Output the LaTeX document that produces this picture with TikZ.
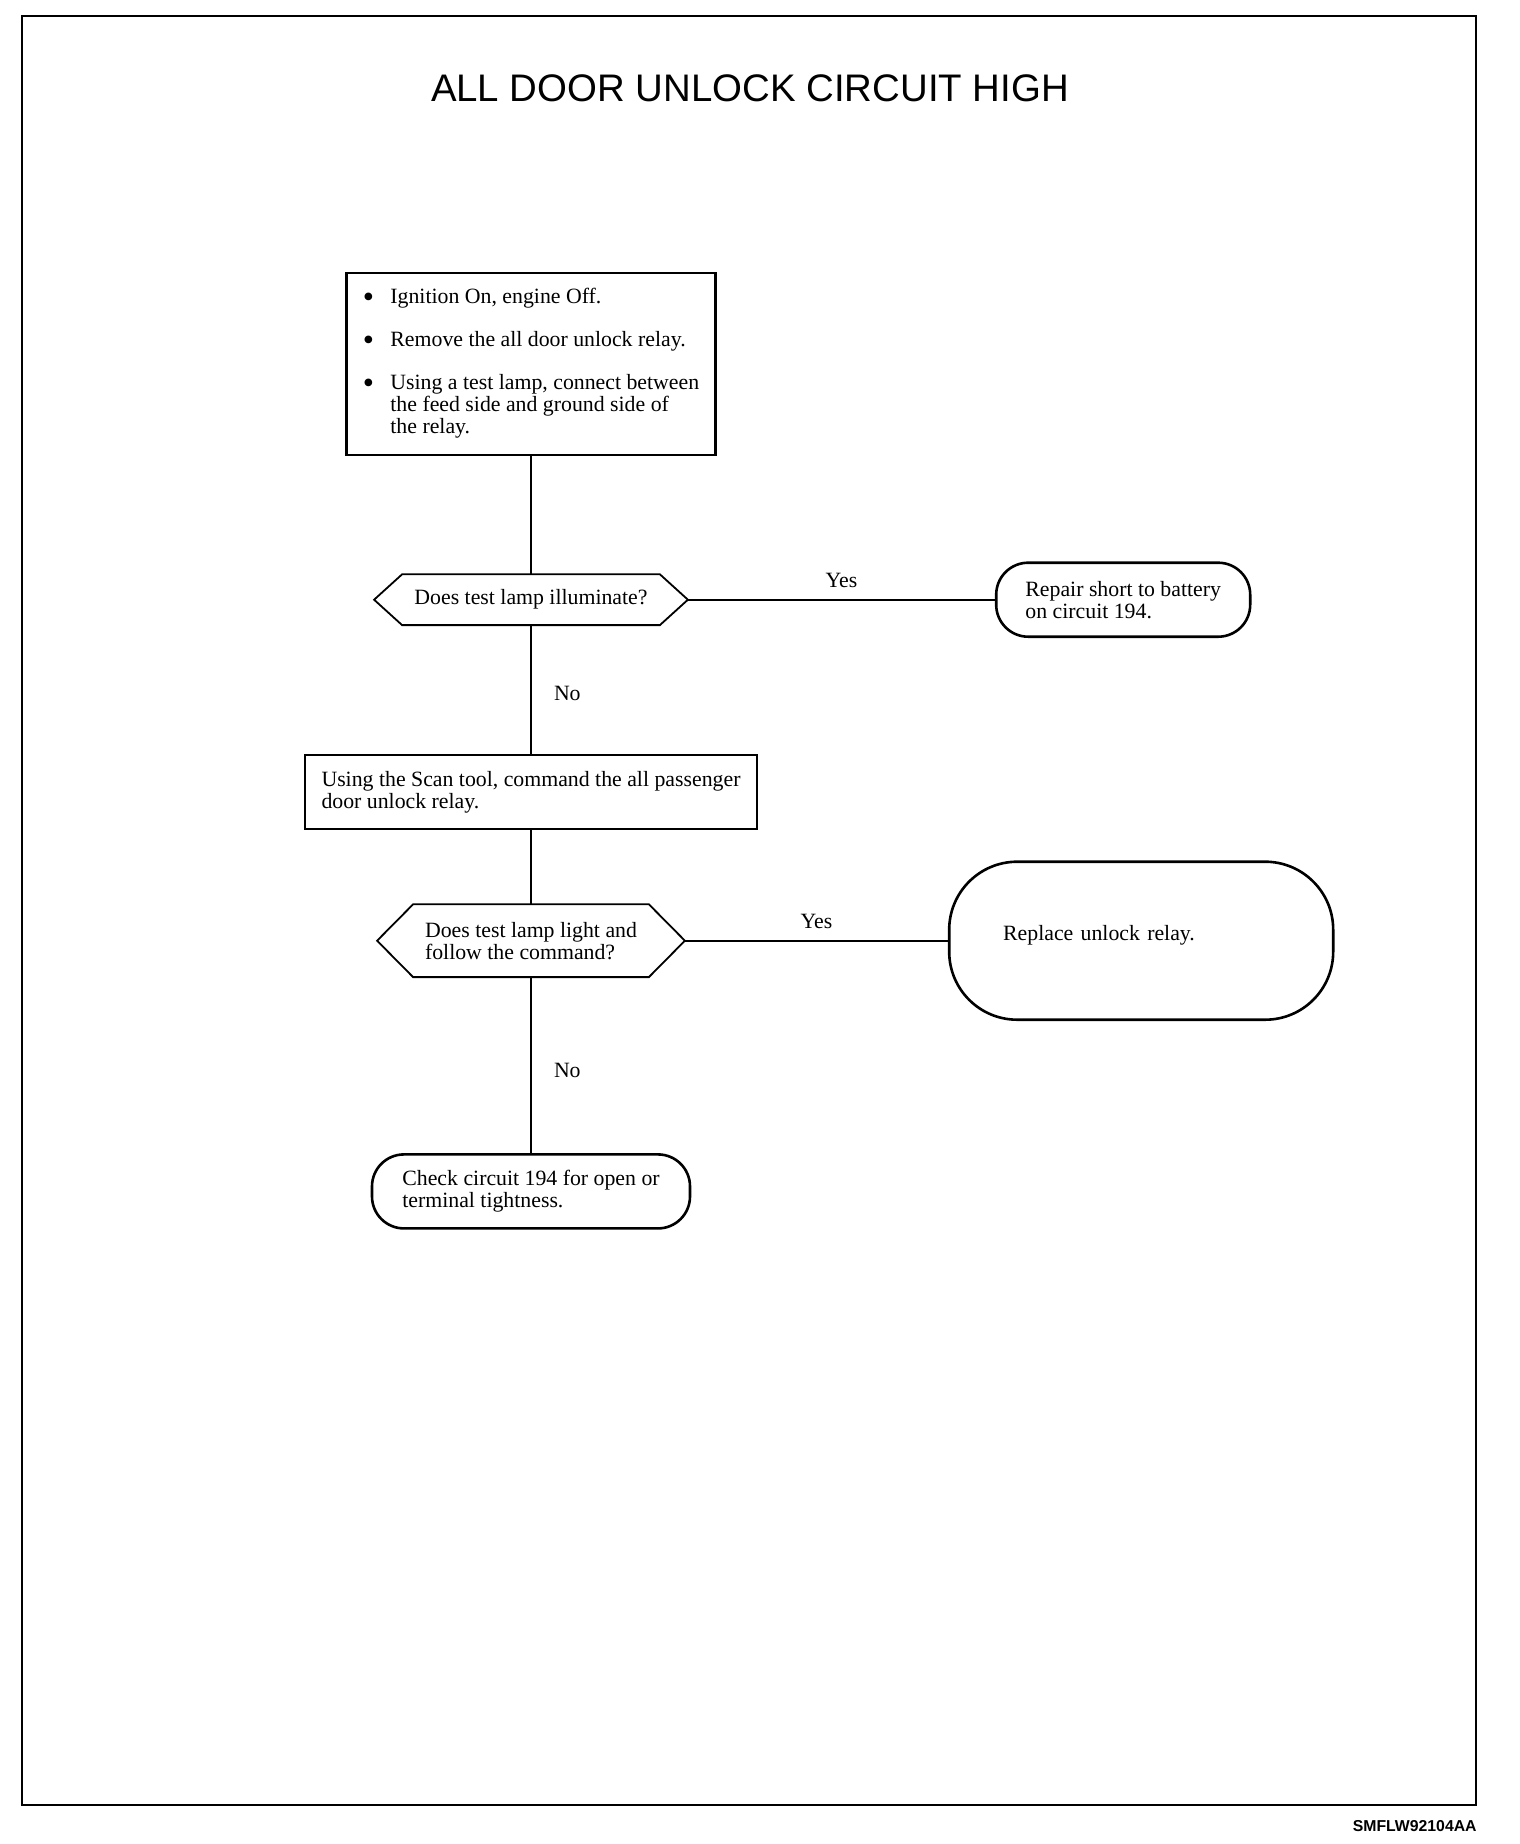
\documentclass[tikz,border=0pt]{standalone}
\usepackage{fontspec}
\setmainfont{Liberation Serif}
\newfontfamily\headfont{Liberation Sans}
\usetikzlibrary{positioning}

% six-sided outline round a query node
\newcommand\hexframe[2]{%
	\draw[hexline] (#1.west) -- ([xshift=#2]#1.north west) -- ([xshift=-#2]#1.north east)
	-- (#1.east) -- ([xshift=-#2]#1.south east) -- ([xshift=#2]#1.south west) -- cycle;}
\newcommand\bigbullet{\raisebox{-1.8pt}{\fontsize{16}{11}\selectfont\textbullet}}

\begin{document}
\begin{tikzpicture}[
			x=0.5pt, y=-0.5pt,
			every node/.style={font=\fontsize{10.9}{11}\selectfont},
			actbox/.style={
				draw, line width=1.3pt, inner sep=0pt
			},
			query/.style={
				inner sep=0pt, align=left
			},
			hexline/.style={
				line width=0.9pt, line join=miter
			},
			endbox/.style={
				draw, line width=1.3pt, inner sep=0pt, align=left,
				minimum height=37pt, rounded corners=#1
			},
			endbox/.default=16pt,
			link/.style={
				line width=1pt
			},
			answer/.style={
				inner sep=3pt
			}
			]
			
			\useasboundingbox (0,0) rectangle (1520,1844);
			\draw[line width=1.2pt] (22,16) rectangle (1476,1805);
			
			% Title
			\node[font=\headfont\fontsize{19.2}{22}\selectfont] (title) at (750,88) {ALL DOOR UNLOCK CIRCUIT HIGH};
			
			% Step 1
			\node[actbox, minimum width=184.5pt, minimum height=91pt] (prep) at (531,364) {%
				\begin{tabular}{@{}l@{\hspace{8.2pt}}l@{}}
					\bigbullet & Ignition On, engine Off.\\[10.5pt]
					\bigbullet & Remove the all door unlock relay.\\[10.5pt]
					\bigbullet & Using a test lamp, connect between\\
					& the feed side and ground side of\\
					& the relay.
				\end{tabular}};
			
			% Question 1
			\node[query, minimum width=156.5pt, minimum height=25pt, below=59pt of prep] (lit) {Does test lamp illuminate?};
			\hexframe{lit}{14pt}
			\node[endbox, minimum width=127pt, right=153.5pt of lit] (short) {Repair short to battery\\on circuit 194.};
			
			% Step 2
			\node[actbox, align=left, minimum width=226pt, minimum height=37pt, below=64.3pt of lit] (scan) {Using the Scan tool, command the all passenger\\door unlock relay.};
			
			% Question 2
			\node[query, minimum width=153.5pt, minimum height=36pt, below=37pt of scan] (follow) {Does test lamp light and\\follow the command?};
			\hexframe{follow}{18pt}
			\node[endbox=34pt, text width=138pt, inner xsep=27pt, minimum height=79pt, text depth=8pt, right=131.5pt of follow] (relay) {Replace unlock relay.};
			
			% End
			\node[endbox, minimum width=159pt, below=88pt of follow] (check) {Check circuit 194 for open or\\terminal tightness.};
			
			% Links
			\draw[link] (prep) -- (lit);
			\draw[link] (lit) -- node[answer, above=2.5pt] (yes1) {Yes} (short);
			\draw[link] (lit) -- node[answer, right=8pt, pos=0.53] (no1) {No} (scan);
			\draw[link] (scan) -- (follow);
			\draw[link] (follow) -- node[answer, above=2.5pt] (yes2) {Yes} (relay);
			\draw[link] (follow) -- node[answer, right=8pt, pos=0.53] (no2) {No} (check);
			
			% Drawing number
			\node[font=\headfont\bfseries\fontsize{7.9}{9}\selectfont, anchor=east, inner sep=0pt] (code) at (1477,1826) {SMFLW92104AA};
			
		\end{tikzpicture}
\end{document}
